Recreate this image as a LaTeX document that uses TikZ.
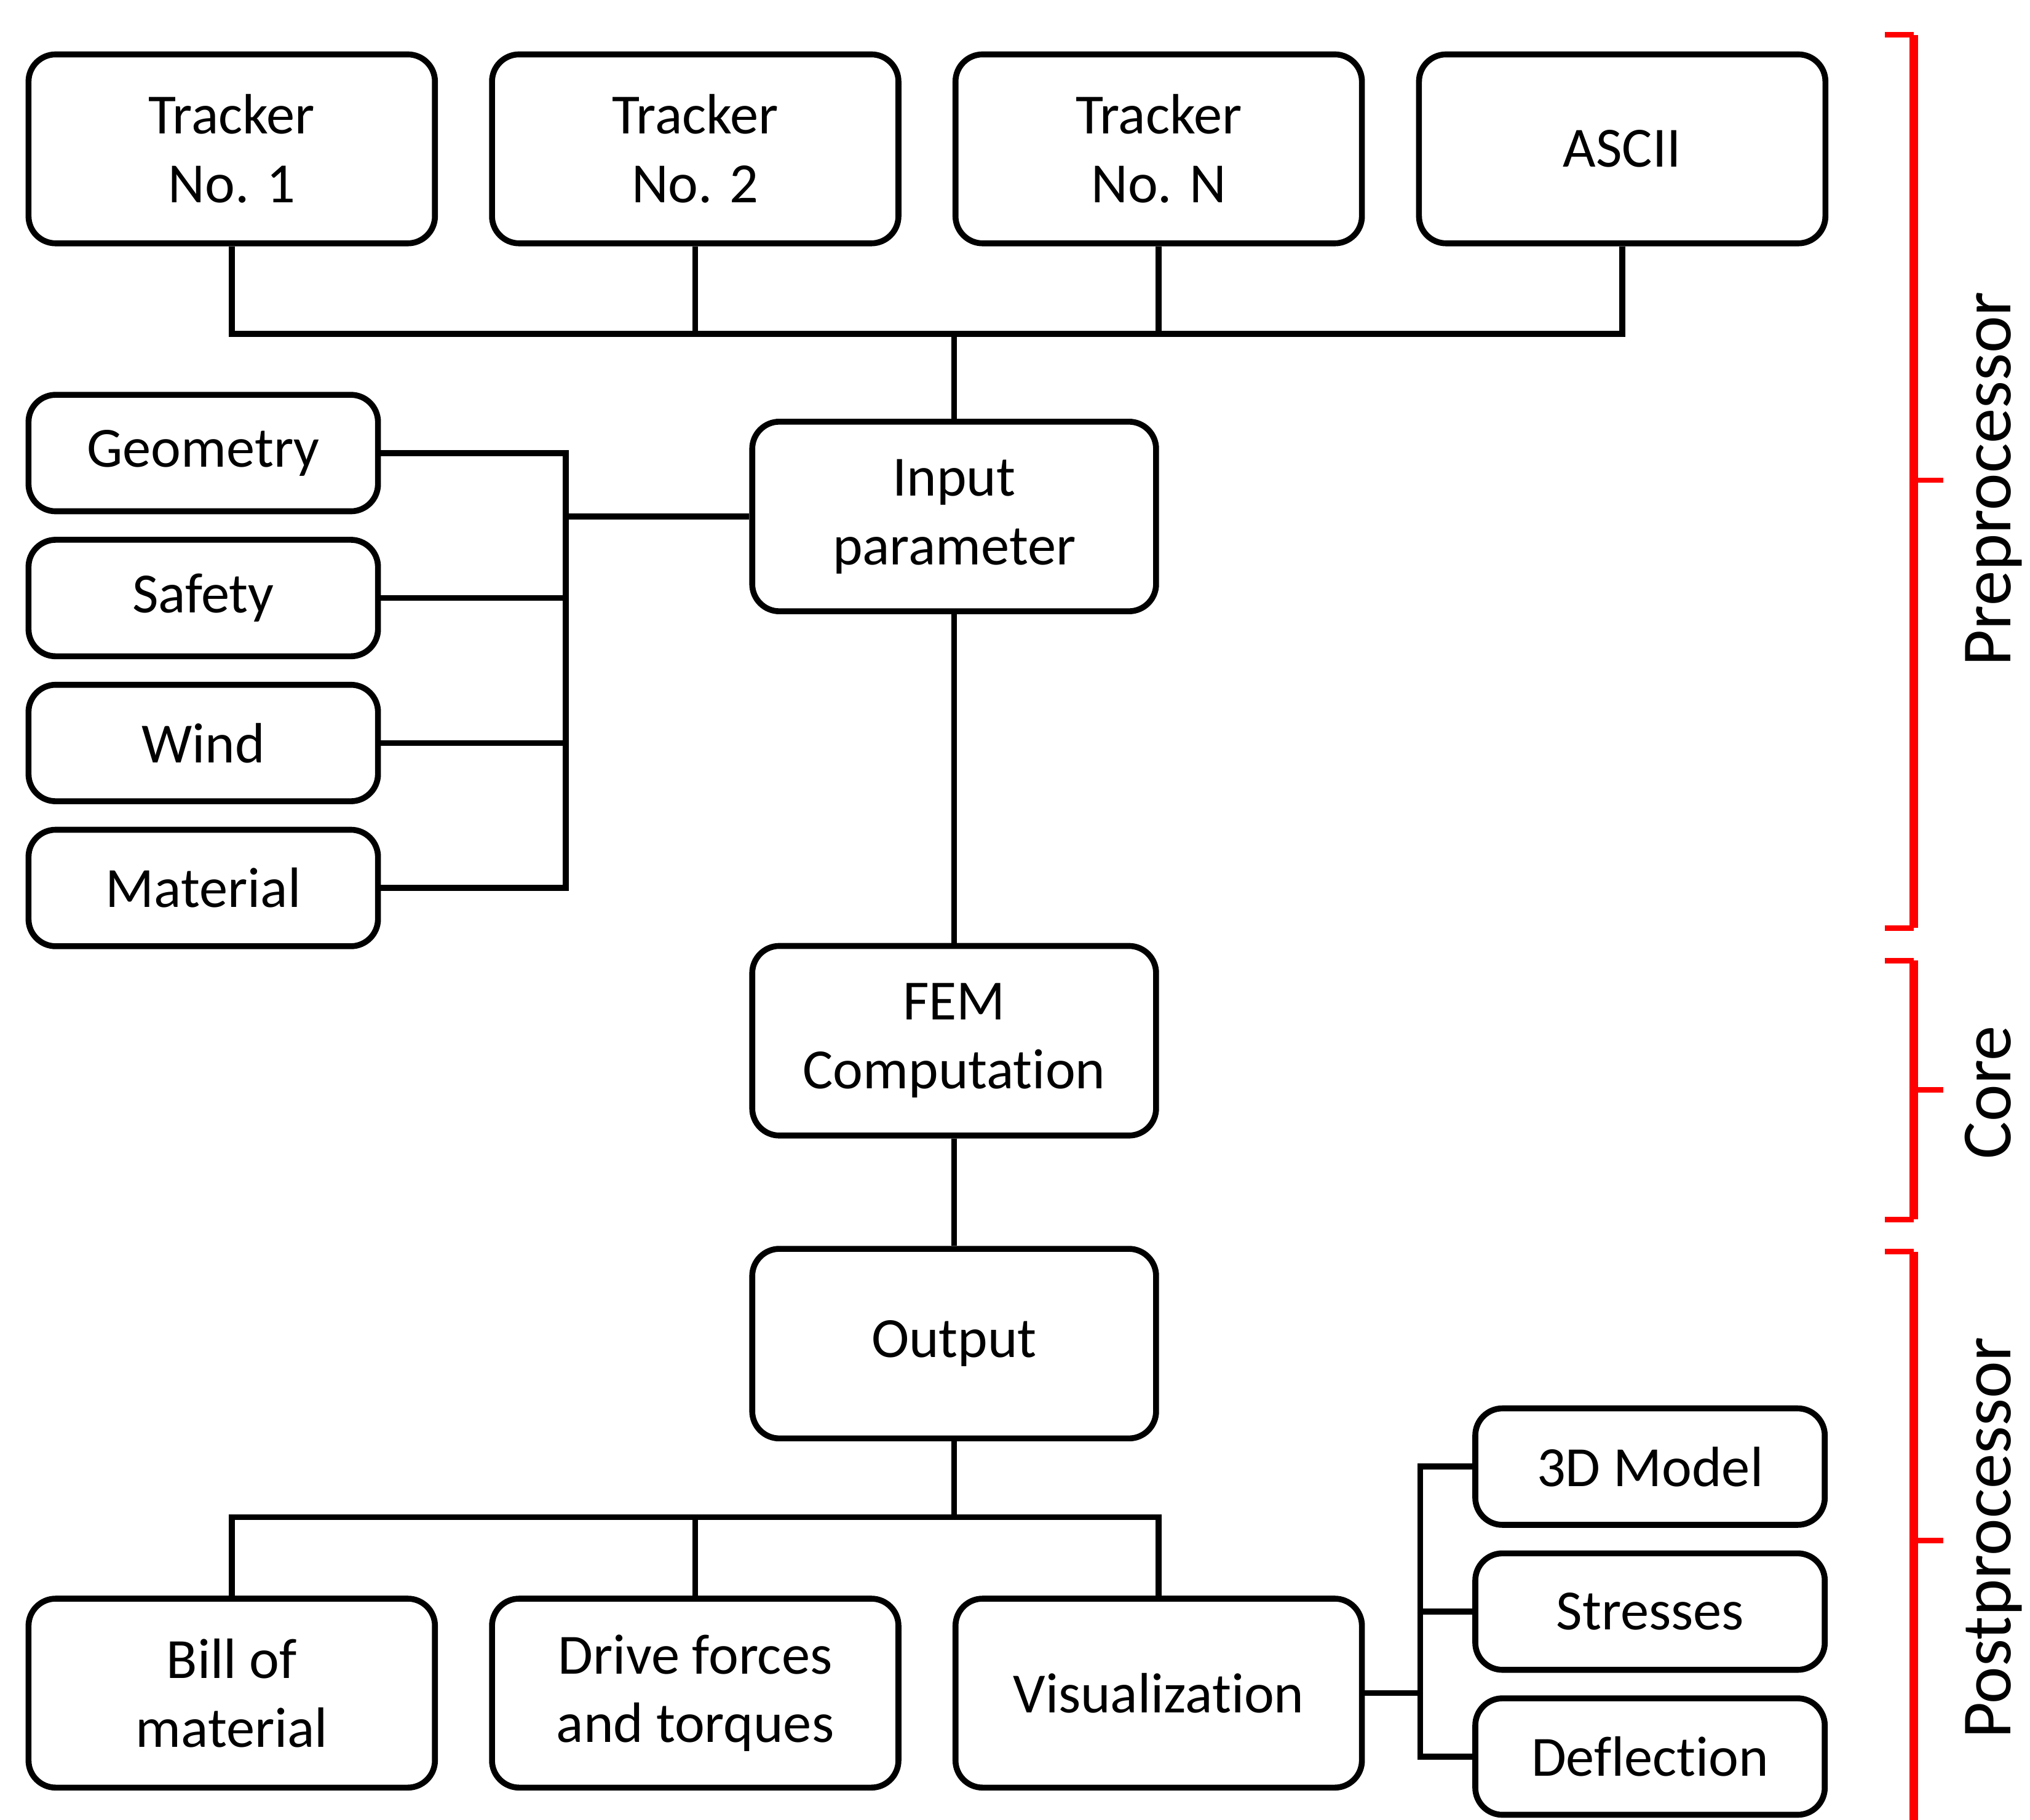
\documentclass[tikz,border=0pt]{standalone}
\usepackage{fontspec}
\setmainfont{Carlito}[Ligatures=NoCommon]
\newcommand{\boxfont}{\fontsize{25}{30.2}\selectfont}
\newcommand{\labfont}{\fontsize{31}{36}\selectfont}
\begin{document}
\begin{tikzpicture}[x=0.02cm,y=-0.02cm,
  box/.style={draw, line width=2.6pt, rounded corners=0.42cm, inner sep=0pt, align=center, font=\boxfont, fill=white},
  big/.style={box, minimum width=6.28cm, minimum height=2.92cm},
  mid/.style={box, minimum width=6.24cm, minimum height=2.93cm},
  small/.style={box, minimum width=5.4cm, minimum height=1.8cm},
  conn/.style={line width=2.6pt},
  brkv/.style={red, line width=3.8pt},
  brkt/.style={red, line width=2.4pt},
  lab/.style={font=\labfont, rotate=90, anchor=base, inner sep=0pt}]
\useasboundingbox (0,0) rectangle (1568,1406);

% top row
\node[big] (t1) at (179,115) {Tracker\\No. 1};
\node[big] (t2) at (537,115) {Tracker\\No. 2};
\node[big] (tN) at (895,115) {Tracker\\No. N};
\node[big] (asc) at (1253,115) {ASCII};

% input parameter
\node[mid] (inp) at (737,399) {Input\\parameter};

% left boxes
\node[small] (geo) at (157,350) {Geometry};
\node[small] (saf) at (157,462) {Safety};
\node[small] (wind) at (157,574) {Wind};
\node[small] (mat) at (157,686) {Material};

% core
\node[mid] (fem) at (737,804) {FEM\\Computation};
\node[mid] (out) at (737,1038) {Output};

% bottom row
\node[big] (bill) at (179,1308) {Bill of\\material};
\node[big] (drive) at (537,1308) {Drive forces\\and torques};
\node[big] (vis) at (895,1308) {Visualization};

% right boxes
\node[small] (m3d) at (1274.5,1133) {3D Model};
\node[small] (str) at (1274.5,1245) {Stresses};
\node[small] (def) at (1274.5,1357) {Deflection};

% connectors top
\coordinate (jtop) at (737,258);
\draw[conn] (t1.south) |- (jtop) -| (asc.south);
\draw[conn] (t2.south) -- (t2.south |- jtop);
\draw[conn] (tN.south) -- (tN.south |- jtop);
\draw[conn] (jtop) -- (inp.north);

% connectors left
\coordinate (jl) at (437,399);
\draw[conn] (geo.east) -| (jl) |- (mat.east);
\draw[conn] (saf.east) -- (saf.east -| jl);
\draw[conn] (wind.east) -- (wind.east -| jl);
\draw[conn] (jl) -- (inp.west);

% core chain
\draw[conn] (inp.south) -- (fem.north);
\draw[conn] (fem.south) -- (out.north);

% bottom connectors
\coordinate (jb) at (737,1172);
\draw[conn] (out.south) -- (jb);
\draw[conn] (bill.north) |- (jb) -| (vis.north);
\draw[conn] (drive.north) -- (drive.north |- jb);

% right connectors
\coordinate (jr) at (1097,1308);
\draw[conn] (vis.east) -- (jr);
\draw[conn] (m3d.west) -| (jr) |- (def.west);
\draw[conn] (str.west) -- (str.west -| jr);

% brackets
\coordinate (pA) at (1478,27);
\coordinate (pB) at (1478,717);
\coordinate (pM) at (1478,371);
\draw[brkv] (pA) -- (pB);
\draw[brkt] (pA) -- ++(-22,0);
\draw[brkt] (pB) -- ++(-22,0);
\draw[brkt] (pM) -- ++(23,0);

\coordinate (cA) at (1478,742);
\coordinate (cB) at (1478,942);
\coordinate (cM) at (1478,842);
\draw[brkv] (cA) -- (cB);
\draw[brkt] (cA) -- ++(-22,0);
\draw[brkt] (cB) -- ++(-22,0);
\draw[brkt] (cM) -- ++(23,0);

\coordinate (qA) at (1478,967);
\coordinate (qB) at (1478,1410);
\coordinate (qM) at (1478,1190);
\draw[brkv] (qA) -- (qB);
\draw[brkt] (qA) -- ++(-22,0);
\draw[brkt] (qM) -- ++(23,0);

% labels
\node[lab] (lpre) at (1553,370) {Preprocessor};
\node[lab] (lcore) at (1553,844) {Core};
\node[lab] (lpost) at (1553,1188) {Postprocessor};
\end{tikzpicture}
\end{document}
